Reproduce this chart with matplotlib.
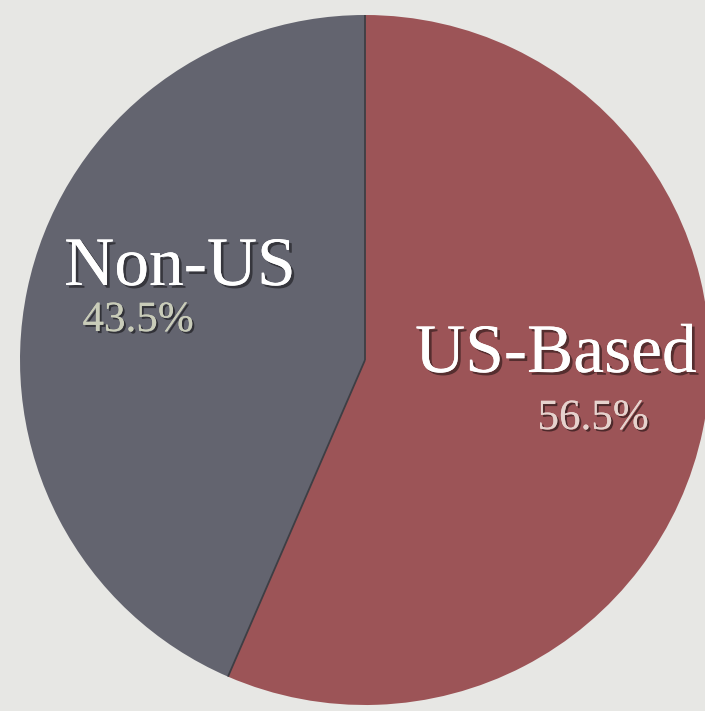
import numpy as np
import matplotlib.pyplot as plt
import matplotlib.patheffects as pe

labels = ['US-Based', 'Non-US']
shares = [56.5, 43.5]
colors = ['#9c5457', '#63646f']
pct_colors = ['#e6d2cd', '#c9ccb9']

W, H = 705, 711
fig = plt.figure(figsize=(W / 100, H / 100), dpi=100)
fig.patch.set_facecolor('#e7e7e4')
ax = fig.add_axes([0, 0, 1, 1])

cx, cy, r = 365, H - 360, 345
wedges, _ = ax.pie(shares, colors=colors, startangle=90, counterclock=False,
                   center=(cx, cy), radius=r,
                   wedgeprops=dict(edgecolor='none'))
# dark separator lines between the slices
for w in wedges:
    a = np.deg2rad(w.theta1)
    ax.plot([cx, cx + r * np.cos(a)], [cy, cy + r * np.sin(a)],
            color='#3e3e44', lw=1.3, solid_capstyle='butt')
ax.set_xlim(0, W)
ax.set_ylim(0, H)
ax.set_aspect('equal')
ax.axis('off')

serif = ['Liberation Serif', 'DejaVu Serif']
shadow = [pe.withSimplePatchShadow(offset=(2, -2), shadow_rgbFace='black', alpha=0.45), pe.Normal()]

# label positions (pixel coords from top)
name_pos = [(556, 372), (180, 285)]
pct_pos = [(593, 429), (138, 331)]

for i in range(len(labels)):
    x, y = name_pos[i]
    ax.text(x, H - y, labels[i], ha='center', va='baseline', fontsize=50,
            color='white', family=serif, path_effects=shadow)
    x, y = pct_pos[i]
    ax.text(x, H - y, f'{shares[i]:.1f}%', ha='center', va='baseline', fontsize=31,
            color=pct_colors[i], family=serif,
            path_effects=[pe.withSimplePatchShadow(offset=(1.5, -1.5), shadow_rgbFace='black', alpha=0.5), pe.Normal()])

fig.savefig('out.png', dpi=100, facecolor=fig.get_facecolor())
